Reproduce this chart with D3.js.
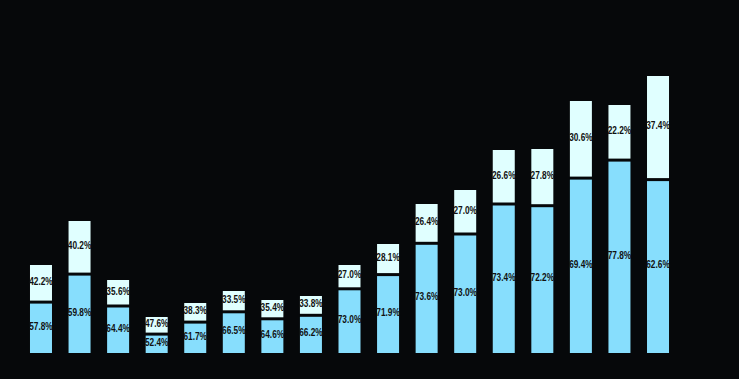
<!DOCTYPE html>
<html>
<head>
<meta charset="utf-8">
<script src="https://cdn.jsdelivr.net/npm/d3@7/dist/d3.min.js"></script>
<style>
  html, body { margin: 0; padding: 0; background: #06080a; }
  svg { display: block; }
</style>
</head>
<body>
<svg id="chart" width="739" height="379"></svg>
<script>
// ---- data ----
const categories = ["C1","C2","C3","C4","C5","C6","C7","C8","C9","C10","C11","C12","C13","C14","C15","C16","C17"];
const lowerValues = [50.9, 78.9, 47.0, 18.9, 30.9, 41.2, 34.2, 37.7, 64.2, 78.4, 109.7, 119.0, 149.0, 147.3, 174.9, 192.9, 173.4];
const upperValues = [37.1, 53.1, 26.0, 17.1, 19.1, 20.8, 18.8, 19.3, 23.8, 30.6, 39.3, 44.0, 54.0, 56.7, 77.1, 55.1, 103.6];
const lowerLabels = ["57.8%","59.8%","64.4%","52.4%","61.7%","66.5%","64.6%","66.2%","73.0%","71.9%","73.6%","73.0%","73.4%","72.2%","69.4%","77.8%","62.6%"];
const upperLabels = ["42.2%","40.2%","35.6%","47.6%","38.3%","33.5%","35.4%","33.8%","27.0%","28.1%","26.4%","27.0%","26.6%","27.8%","30.6%","22.2%","37.4%"];
const yDomain = [0, 300];

// ---- layout ----
const W = 739, H = 379;
const x0 = 21.7, x1 = 677.3, baseY = 353, topY = 53;
const gap = 1.5;
const lowerColor = "#87defd", upperColor = "#e0ffff";

const svg = d3.select("#chart");
svg.append("rect").attr("width", W).attr("height", H).attr("fill", "#06080a");

const x = d3.scaleBand().domain(categories).range([x0, x1]).paddingInner(0.4295).paddingOuter(0.21475);
const y = d3.scaleLinear().domain(yDomain).range([baseY, topY]);

const data = categories.map((c, i) => ({
  c, lo: lowerValues[i], up: upperValues[i], loL: lowerLabels[i], upL: upperLabels[i]
}));

const g = svg.append("g");
const bars = g.selectAll("g.bar").data(data).join("g").attr("class", "bar");

bars.append("rect")
  .attr("x", d => x(d.c))
  .attr("width", x.bandwidth())
  .attr("y", d => y(d.lo) + gap)
  .attr("height", d => y(0) - y(d.lo) - gap)
  .attr("fill", lowerColor);

bars.append("rect")
  .attr("x", d => x(d.c))
  .attr("width", x.bandwidth())
  .attr("y", d => y(d.lo + d.up))
  .attr("height", d => y(d.lo) - gap - y(d.lo + d.up))
  .attr("fill", upperColor);

const font = "'Liberation Sans', Arial, sans-serif";

function label(sel, yFn, txtFn) {
  sel.append("text")
    .attr("x", d => x(d.c) + x.bandwidth() / 2 - 11.75)
    .attr("y", yFn)
    .attr("dominant-baseline", "central")
    .attr("font-family", font)
    .attr("font-weight", "bold")
    .attr("font-size", "10.5px")
    .attr("textLength", 23.5)
    .attr("lengthAdjust", "spacingAndGlyphs")
    .attr("fill", "#111")
    .text(txtFn);
}
label(bars, d => (y(d.lo) + y(0)) / 2 - 2, d => d.loL);
label(bars, d => (y(d.lo + d.up) + y(d.lo)) / 2 - 2.5, d => d.upL);
</script>
</body>
</html>
